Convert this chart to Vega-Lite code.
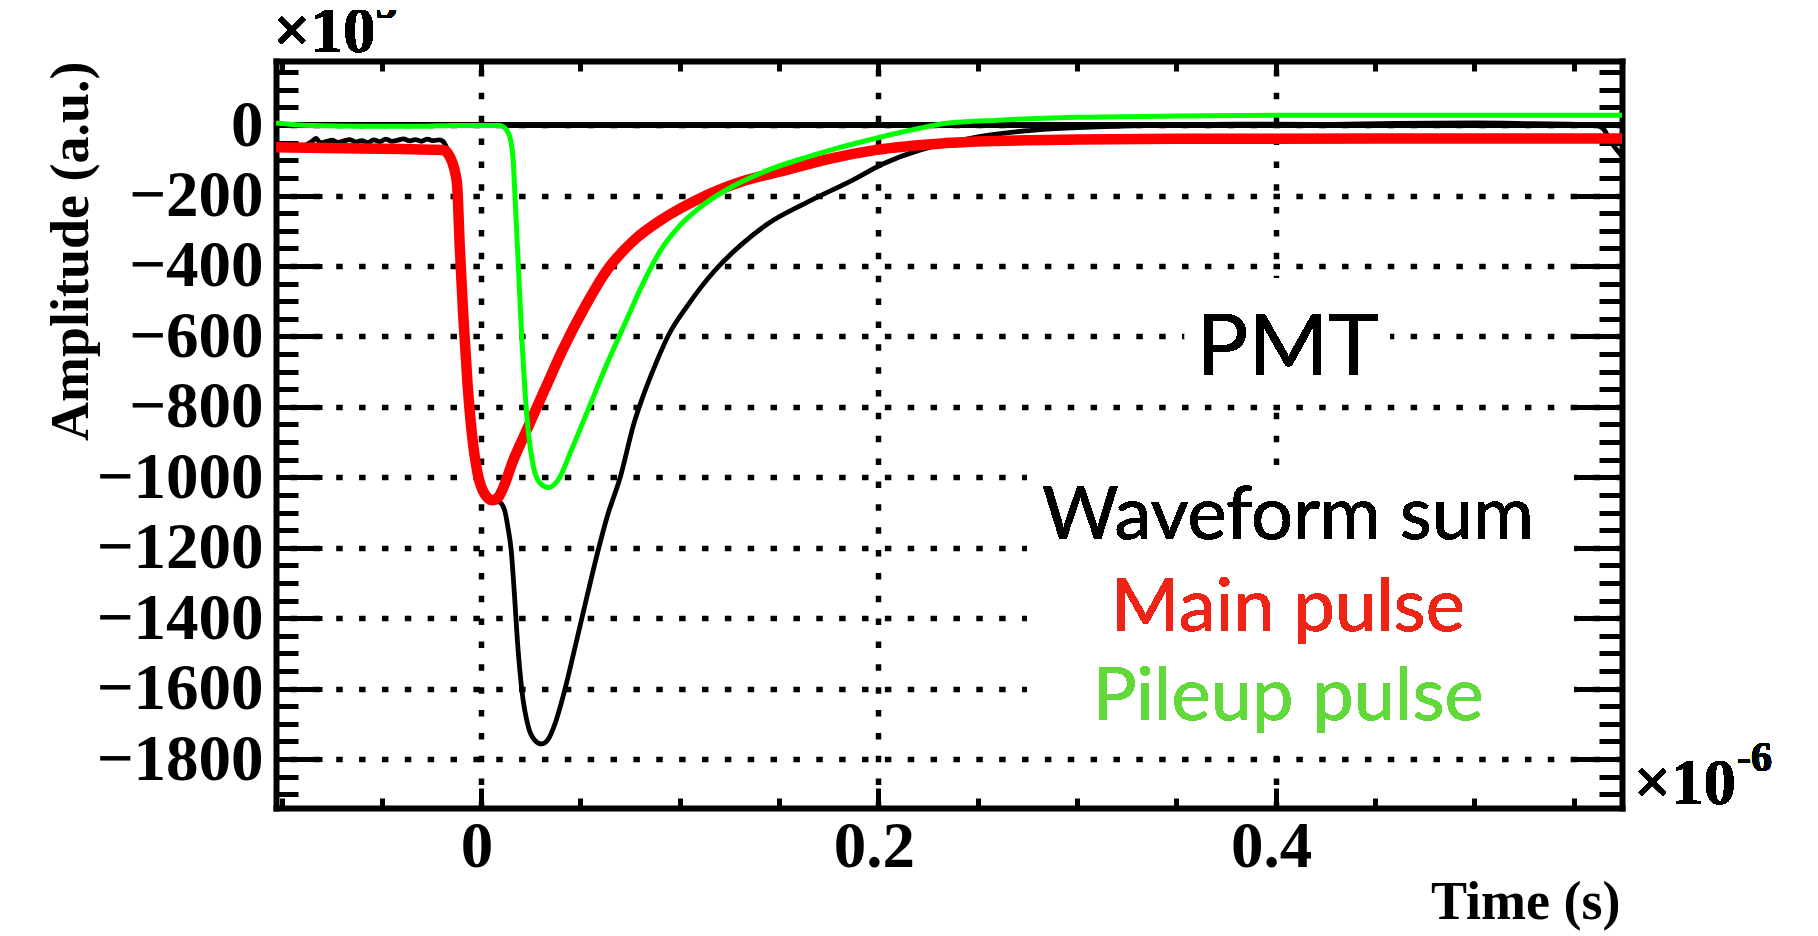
{
  "$schema": "https://vega.github.io/schema/vega-lite/v6.json",
  "autosize": {"type": "none"},
  "width": 1346,
  "height": 747,
  "padding": {"left": 276, "top": 61, "right": 196, "bottom": 128},
  "background": "white",
  "config": {"view": {"stroke": null}},
  "data": {"values": [
    {"s":"sum","t":-0.1032,"A":-62},{"s":"sum","t":-0.09,"A":-60},{"s":"sum","t":-0.085,"A":-46},{"s":"sum","t":-0.083,"A":-38},{"s":"sum","t":-0.081,"A":-50},{"s":"sum","t":-0.078,"A":-47},{"s":"sum","t":-0.075,"A":-43},{"s":"sum","t":-0.072,"A":-49},{"s":"sum","t":-0.069,"A":-45},{"s":"sum","t":-0.066,"A":-41},{"s":"sum","t":-0.063,"A":-48},{"s":"sum","t":-0.06,"A":-44},{"s":"sum","t":-0.057,"A":-50},{"s":"sum","t":-0.054,"A":-42},{"s":"sum","t":-0.051,"A":-47},{"s":"sum","t":-0.048,"A":-40},{"s":"sum","t":-0.045,"A":-46},{"s":"sum","t":-0.042,"A":-43},{"s":"sum","t":-0.039,"A":-39},{"s":"sum","t":-0.036,"A":-45},{"s":"sum","t":-0.033,"A":-41},{"s":"sum","t":-0.03,"A":-46},{"s":"sum","t":-0.027,"A":-40},{"s":"sum","t":-0.024,"A":-44},{"s":"sum","t":-0.021,"A":-42},{"s":"sum","t":-0.019,"A":-47},{"s":"sum","t":-0.0165,"A":-75},{"s":"sum","t":-0.014,"A":-118},{"s":"sum","t":-0.0124,"A":-170},{"s":"sum","t":-0.0107,"A":-355},{"s":"sum","t":-0.0089,"A":-544},{"s":"sum","t":-0.0068,"A":-733},{"s":"sum","t":-0.0046,"A":-875},{"s":"sum","t":-0.0017,"A":-989},{"s":"sum","t":0.0017,"A":-1046},{"s":"sum","t":0.0057,"A":-1068},{"s":"sum","t":0.009,"A":-1070},{"s":"sum","t":0.0118,"A":-1092},{"s":"sum","t":0.0135,"A":-1140},{"s":"sum","t":0.0152,"A":-1207},{"s":"sum","t":0.0168,"A":-1330},{"s":"sum","t":0.0183,"A":-1462},{"s":"sum","t":0.0205,"A":-1601},{"s":"sum","t":0.0238,"A":-1708},{"s":"sum","t":0.027,"A":-1746},{"s":"sum","t":0.0305,"A":-1757},{"s":"sum","t":0.0338,"A":-1744},{"s":"sum","t":0.0373,"A":-1699},{"s":"sum","t":0.0423,"A":-1601},{"s":"sum","t":0.0482,"A":-1462},{"s":"sum","t":0.0535,"A":-1335},{"s":"sum","t":0.059,"A":-1207},{"s":"sum","t":0.0635,"A":-1112},{"s":"sum","t":0.0702,"A":-998},{"s":"sum","t":0.077,"A":-847},{"s":"sum","t":0.0815,"A":-771},{"s":"sum","t":0.086,"A":-705},{"s":"sum","t":0.0949,"A":-591},{"s":"sum","t":0.1039,"A":-513},{"s":"sum","t":0.1174,"A":-415},{"s":"sum","t":0.1309,"A":-340},{"s":"sum","t":0.1444,"A":-280},{"s":"sum","t":0.1646,"A":-218},{"s":"sum","t":0.1871,"A":-156},{"s":"sum","t":0.2028,"A":-109},{"s":"sum","t":0.2208,"A":-71},{"s":"sum","t":0.2343,"A":-52},{"s":"sum","t":0.254,"A":-30},{"s":"sum","t":0.283,"A":-12},{"s":"sum","t":0.31,"A":-5},{"s":"sum","t":0.341,"A":0},{"s":"sum","t":0.38,"A":3},{"s":"sum","t":0.42,"A":2},{"s":"sum","t":0.46,"A":5},{"s":"sum","t":0.5,"A":6},{"s":"sum","t":0.53,"A":4},{"s":"sum","t":0.555,"A":2},{"s":"sum","t":0.561,"A":0},{"s":"sum","t":0.565,"A":-10},{"s":"sum","t":0.568,"A":-40},{"s":"sum","t":0.5744,"A":-88},
    {"s":"main","t":-0.1032,"A":-63},{"s":"main","t":-0.07,"A":-66},{"s":"main","t":-0.04,"A":-68},{"s":"main","t":-0.025,"A":-70},{"s":"main","t":-0.019,"A":-71},{"s":"main","t":-0.0165,"A":-82},{"s":"main","t":-0.0145,"A":-105},{"s":"main","t":-0.013,"A":-135},{"s":"main","t":-0.012,"A":-170},{"s":"main","t":-0.0107,"A":-345},{"s":"main","t":-0.0089,"A":-544},{"s":"main","t":-0.0068,"A":-733},{"s":"main","t":-0.0046,"A":-875},{"s":"main","t":-0.0017,"A":-989},{"s":"main","t":0.0017,"A":-1046},{"s":"main","t":0.0057,"A":-1065},{"s":"main","t":0.0085,"A":-1058},{"s":"main","t":0.0107,"A":-1036},{"s":"main","t":0.0163,"A":-951},{"s":"main","t":0.023,"A":-866},{"s":"main","t":0.032,"A":-752},{"s":"main","t":0.041,"A":-639},{"s":"main","t":0.0523,"A":-516},{"s":"main","t":0.0634,"A":-412},{"s":"main","t":0.077,"A":-327},{"s":"main","t":0.0905,"A":-270},{"s":"main","t":0.1084,"A":-213},{"s":"main","t":0.1309,"A":-161},{"s":"main","t":0.1534,"A":-128},{"s":"main","t":0.1759,"A":-95},{"s":"main","t":0.1983,"A":-71},{"s":"main","t":0.232,"A":-52},{"s":"main","t":0.26,"A":-45},{"s":"main","t":0.3,"A":-41},{"s":"main","t":0.35,"A":-39},{"s":"main","t":0.45,"A":-38},{"s":"main","t":0.5744,"A":-38},
    {"s":"pileup","t":-0.1032,"A":6},{"s":"pileup","t":-0.095,"A":2},{"s":"pileup","t":-0.085,"A":-1},{"s":"pileup","t":-0.06,"A":-3},{"s":"pileup","t":-0.03,"A":-3},{"s":"pileup","t":-0.013,"A":-1},{"s":"pileup","t":0.0,"A":-1},{"s":"pileup","t":0.0095,"A":-1},{"s":"pileup","t":0.0115,"A":-6},{"s":"pileup","t":0.0135,"A":-20},{"s":"pileup","t":0.015,"A":-45},{"s":"pileup","t":0.0162,"A":-100},{"s":"pileup","t":0.0171,"A":-200},{"s":"pileup","t":0.0188,"A":-400},{"s":"pileup","t":0.0205,"A":-601},{"s":"pileup","t":0.0222,"A":-760},{"s":"pileup","t":0.024,"A":-880},{"s":"pileup","t":0.0264,"A":-970},{"s":"pileup","t":0.0298,"A":-1017},{"s":"pileup","t":0.0338,"A":-1029},{"s":"pileup","t":0.0388,"A":-1008},{"s":"pileup","t":0.0455,"A":-923},{"s":"pileup","t":0.0545,"A":-800},{"s":"pileup","t":0.0635,"A":-677},{"s":"pileup","t":0.0725,"A":-563},{"s":"pileup","t":0.0815,"A":-450},{"s":"pileup","t":0.0905,"A":-355},{"s":"pileup","t":0.0995,"A":-289},{"s":"pileup","t":0.113,"A":-222},{"s":"pileup","t":0.1264,"A":-175},{"s":"pileup","t":0.1422,"A":-133},{"s":"pileup","t":0.1646,"A":-90},{"s":"pileup","t":0.1759,"A":-71},{"s":"pileup","t":0.1983,"A":-38},{"s":"pileup","t":0.2208,"A":-9},{"s":"pileup","t":0.2343,"A":5},{"s":"pileup","t":0.26,"A":14},{"s":"pileup","t":0.3,"A":22},{"s":"pileup","t":0.35,"A":26},{"s":"pileup","t":0.4,"A":28},{"s":"pileup","t":0.5,"A":28},{"s":"pileup","t":0.5744,"A":28}
  ]},
  "resolve": {"axis": {"x": "independent", "y": "independent"}},
  "layer": [
    {
      "mark": {"type": "rect", "color": "white"},
      "encoding": {
        "x": {"datum": 0.2749, "type": "quantitative", "scale": {"domain": [-0.1032, 0.5744], "nice": false, "zero": false}, "axis": null},
        "x2": {"datum": 0.55},
        "y": {"datum": -965, "type": "quantitative", "scale": {"domain": [-1939, 182], "nice": false, "zero": false}, "axis": null},
        "y2": {"datum": -1760}
      }
    },
    {
      "mark": {"type": "rect", "color": "white"},
      "encoding": {
        "x": {"datum": 0.3544, "type": "quantitative", "scale": {"domain": [-0.1032, 0.5744], "nice": false, "zero": false}, "axis": null},
        "x2": {"datum": 0.4576},
        "y": {"datum": -434, "type": "quantitative", "scale": {"domain": [-1939, 182], "nice": false, "zero": false}, "axis": null},
        "y2": {"datum": -775}
      }
    },
    {
      "mark": {"type": "rule", "color": "black", "strokeWidth": 5, "clip": true},
      "encoding": {
        "y": {"datum": 0, "type": "quantitative", "scale": {"domain": [-1939, 182], "nice": false, "zero": false}, "axis": null}
      }
    },
    {
      "transform": [{"filter": "datum.s === 'sum'"}],
      "mark": {"type": "line", "color": "black", "strokeWidth": 4.8, "clip": true, "interpolate": "monotone", "strokeJoin": "round"},
      "encoding": {
        "x": {"field": "t", "type": "quantitative", "scale": {"domain": [-0.1032, 0.5744], "nice": false, "zero": false},
          "axis": {"orient": "bottom", "values": [0, 0.2, 0.4], "format": ".1~f", "labelFont": "Liberation Serif", "labelFontWeight": "bold", "labelFontSize": 65, "labelColor": "black", "labelBaseline": "alphabetic", "labelAlign": "center", "labelPadding": 58, "labelOffset": -4.5, "labelFlush": false, "labelOverlap": false, "labelBound": false, "ticks": false, "tickSize": 0, "domain": false, "grid": true, "gridColor": "black", "gridOpacity": 1, "gridWidth": 5.5, "gridDash": [6.5, 16.36], "gridDashOffset": 14.4, "title": "Time (s)", "titleFont": "Liberation Serif", "titleFontWeight": "bold", "titleFontSize": 54, "titleColor": "black", "titleAlign": "right", "titleBaseline": "alphabetic", "titleX": 1344, "titleY": 110, "zindex": 0}},
        "y": {"field": "A", "type": "quantitative", "scale": {"domain": [-1939, 182], "nice": false, "zero": false},
          "axis": {"orient": "left", "values": [-1800, -1600, -1400, -1200, -1000, -800, -600, -400, -200, 0], "format": "d", "labelFont": "Liberation Serif", "labelFontWeight": "bold", "labelFontSize": 65, "labelColor": "black", "labelAlign": "right", "labelBaseline": "middle", "labelPadding": 13, "labelFlush": false, "labelOverlap": false, "labelBound": false, "ticks": false, "tickSize": 0, "domain": false, "grid": true, "gridColor": "black", "gridOpacity": 1, "gridWidth": 5.5, "gridDash": [6.5, 16.36], "gridDashOffset": 8.86, "title": "Amplitude (a.u.)", "titleFont": "Liberation Serif", "titleFontWeight": "bold", "titleFontSize": 54, "titleColor": "black", "titleAngle": 270, "titleAlign": "right", "titleBaseline": "alphabetic", "titleX": -189, "titleY": 0, "zindex": 0}}
      }
    },
    {
      "transform": [{"filter": "datum.s === 'main'"}],
      "mark": {"type": "line", "color": "#ff0000", "strokeWidth": 10.5, "clip": true, "interpolate": "monotone", "strokeJoin": "round"},
      "encoding": {
        "x": {"field": "t", "type": "quantitative", "scale": {"domain": [-0.1032, 0.5744], "nice": false, "zero": false},
          "axis": {"orient": "bottom", "values": [0, 0.2, 0.4], "labels": false, "ticks": true, "tickSize": -20, "tickWidth": 5, "tickColor": "black", "domain": true, "domainColor": "black", "domainWidth": 6, "domainCap": "square", "grid": false, "title": null, "zindex": 0}},
        "y": {"field": "A", "type": "quantitative", "scale": {"domain": [-1939, 182], "nice": false, "zero": false},
          "axis": {"orient": "left", "values": [-1800, -1600, -1400, -1200, -1000, -800, -600, -400, -200, 0], "labels": false, "ticks": true, "tickSize": -46, "tickWidth": 5, "tickColor": "black", "domain": true, "domainColor": "black", "domainWidth": 6, "domainCap": "square", "grid": false, "title": null, "zindex": 0}}
      }
    },
    {
      "transform": [{"filter": "datum.s === 'pileup'"}],
      "mark": {"type": "line", "color": "#00ff00", "strokeWidth": 5, "clip": true, "interpolate": "monotone", "strokeJoin": "round"},
      "encoding": {
        "x": {"field": "t", "type": "quantitative", "scale": {"domain": [-0.1032, 0.5744], "nice": false, "zero": false},
          "axis": {"orient": "bottom", "values": [-0.1, -0.05, 0.05, 0.1, 0.15, 0.25, 0.3, 0.35, 0.45, 0.5, 0.55], "labels": false, "ticks": true, "tickSize": -10, "tickWidth": 5, "tickColor": "black", "domain": false, "grid": false, "title": null, "zindex": 0}},
        "y": {"field": "A", "type": "quantitative", "scale": {"domain": [-1939, 182], "nice": false, "zero": false},
          "axis": {"orient": "left", "values": [150, 100, 50, -50, -100, -150, -250, -300, -350, -450, -500, -550, -650, -700, -750, -850, -900, -950, -1050, -1100, -1150, -1250, -1300, -1350, -1450, -1500, -1550, -1650, -1700, -1750, -1850, -1900], "labels": false, "ticks": true, "tickSize": -22, "tickWidth": 5, "tickColor": "black", "domain": false, "grid": false, "title": null, "zindex": 0}}
      }
    },
    {
      "mark": {"type": "text", "text": "PMT", "font": "Lato", "fontSize": 86, "align": "center", "baseline": "alphabetic", "color": "black"},
      "encoding": {
        "x": {"datum": 0.4062, "type": "quantitative", "scale": {"domain": [-0.1032, 0.5744], "nice": false, "zero": false},
          "axis": {"orient": "top", "values": [0, 0.2, 0.4], "labels": false, "ticks": true, "tickSize": -12, "tickWidth": 5, "tickColor": "black", "domain": true, "domainColor": "black", "domainWidth": 6, "domainCap": "square", "grid": false, "title": null, "zindex": 0}},
        "y": {"datum": -710, "type": "quantitative", "scale": {"domain": [-1939, 182], "nice": false, "zero": false},
          "axis": {"orient": "right", "values": [-1800, -1600, -1400, -1200, -1000, -800, -600, -400, -200, 0], "labels": false, "ticks": true, "tickSize": -46, "tickWidth": 5, "tickColor": "black", "domain": true, "domainColor": "black", "domainWidth": 6, "domainCap": "square", "grid": false, "title": null, "zindex": 0}}
      }
    },
    {
      "mark": {"type": "text", "text": "Waveform sum", "font": "Lato", "fontSize": 74, "align": "center", "baseline": "alphabetic", "color": "black"},
      "encoding": {
        "x": {"datum": 0.4062, "type": "quantitative", "scale": {"domain": [-0.1032, 0.5744], "nice": false, "zero": false},
          "axis": {"orient": "top", "values": [-0.1, -0.05, 0.05, 0.1, 0.15, 0.25, 0.3, 0.35, 0.45, 0.5, 0.55], "labels": false, "ticks": true, "tickSize": -10, "tickWidth": 5, "tickColor": "black", "domain": false, "grid": false, "title": null, "zindex": 0}},
        "y": {"datum": -1176, "type": "quantitative", "scale": {"domain": [-1939, 182], "nice": false, "zero": false},
          "axis": {"orient": "right", "values": [150, 100, 50, -50, -100, -150, -250, -300, -350, -450, -500, -550, -650, -700, -750, -850, -900, -950, -1050, -1100, -1150, -1250, -1300, -1350, -1450, -1500, -1550, -1650, -1700, -1750, -1850, -1900], "labels": false, "ticks": true, "tickSize": -23, "tickWidth": 5, "tickColor": "black", "domain": false, "grid": false, "title": null, "zindex": 0}}
      }
    },
    {
      "mark": {"type": "text", "text": "Main pulse", "font": "Lato", "fontSize": 74, "align": "center", "baseline": "alphabetic", "color": "#ed2416"},
      "encoding": {
        "x": {"datum": 0.4062, "type": "quantitative", "scale": {"domain": [-0.1032, 0.5744], "nice": false, "zero": false}, "axis": null},
        "y": {"datum": -1436, "type": "quantitative", "scale": {"domain": [-1939, 182], "nice": false, "zero": false}, "axis": null}
      }
    },
    {
      "mark": {"type": "text", "text": "Pileup pulse", "font": "Lato", "fontSize": 74, "align": "center", "baseline": "alphabetic", "color": "#62d93a"},
      "encoding": {
        "x": {"datum": 0.4062, "type": "quantitative", "scale": {"domain": [-0.1032, 0.5744], "nice": false, "zero": false}, "axis": null},
        "y": {"datum": -1689, "type": "quantitative", "scale": {"domain": [-1939, 182], "nice": false, "zero": false}, "axis": null}
      }
    },
    {
      "mark": {"type": "text", "text": "×10", "font": "Liberation Serif", "fontWeight": "bold", "fontSize": 65, "align": "left", "baseline": "alphabetic", "color": "black", "dx": 12, "dy": -4},
      "encoding": {
        "x": {"datum": 0.5744, "type": "quantitative", "scale": {"domain": [-0.1032, 0.5744], "nice": false, "zero": false}, "axis": null},
        "y": {"datum": -1939, "type": "quantitative", "scale": {"domain": [-1939, 182], "nice": false, "zero": false}, "axis": null}
      }
    },
    {
      "mark": {"type": "text", "text": "-6", "font": "Liberation Serif", "fontWeight": "bold", "fontSize": 42, "align": "left", "baseline": "alphabetic", "color": "black", "dx": 115, "dy": -37},
      "encoding": {
        "x": {"datum": 0.5744, "type": "quantitative", "scale": {"domain": [-0.1032, 0.5744], "nice": false, "zero": false}, "axis": null},
        "y": {"datum": -1939, "type": "quantitative", "scale": {"domain": [-1939, 182], "nice": false, "zero": false}, "axis": null}
      }
    },
    {
      "mark": {"type": "text", "text": "×10", "font": "Liberation Serif", "fontWeight": "bold", "fontSize": 65, "align": "left", "baseline": "alphabetic", "color": "black", "dx": -2.5, "dy": -9},
      "encoding": {
        "x": {"datum": -0.1032, "type": "quantitative", "scale": {"domain": [-0.1032, 0.5744], "nice": false, "zero": false}, "axis": null},
        "y": {"datum": 182, "type": "quantitative", "scale": {"domain": [-1939, 182], "nice": false, "zero": false}, "axis": null}
      }
    },
    {
      "mark": {"type": "text", "text": "3", "font": "Liberation Serif", "fontWeight": "bold", "fontSize": 42, "align": "left", "baseline": "alphabetic", "color": "black", "dx": 100, "dy": -43},
      "encoding": {
        "x": {"datum": -0.1032, "type": "quantitative", "scale": {"domain": [-0.1032, 0.5744], "nice": false, "zero": false}, "axis": null},
        "y": {"datum": 182, "type": "quantitative", "scale": {"domain": [-1939, 182], "nice": false, "zero": false}, "axis": null}
      }
    },
    {
      "mark": {"type": "rect", "color": "white"},
      "encoding": {
        "x": {"datum": -0.115, "type": "quantitative", "scale": {"domain": [-0.1032, 0.5744], "nice": false, "zero": false}, "axis": null},
        "x2": {"datum": 0.0},
        "y": {"datum": 327, "type": "quantitative", "scale": {"domain": [-1939, 182], "nice": false, "zero": false}, "axis": null},
        "y2": {"datum": 360}
      }
    }
  ]
}
